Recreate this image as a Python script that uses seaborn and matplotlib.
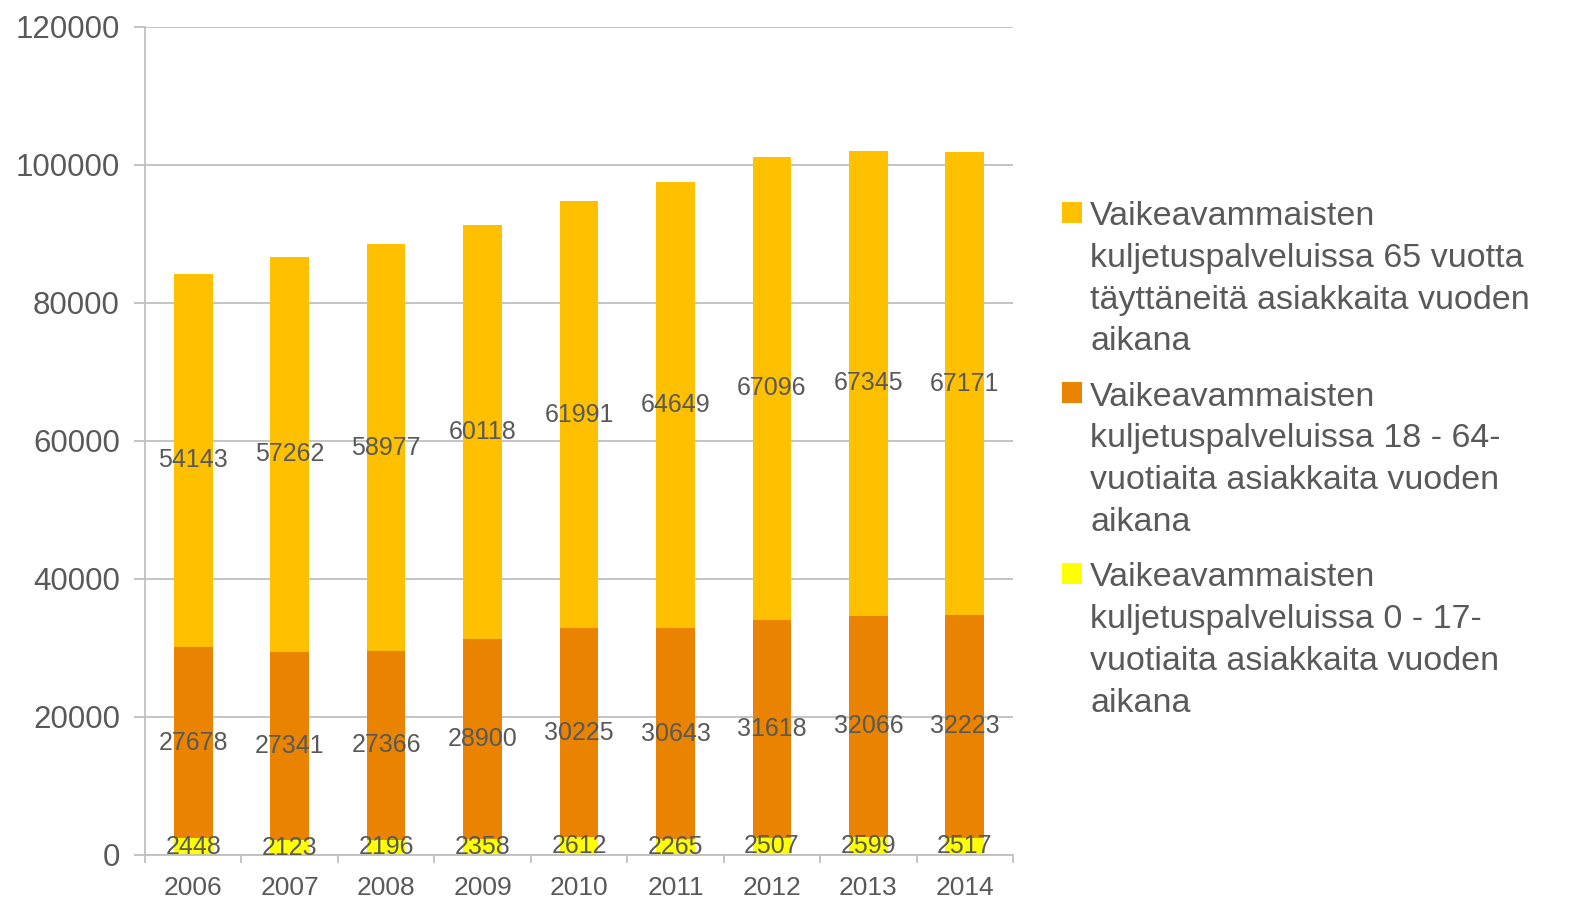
import numpy as np
import pandas as pd
import seaborn as sns
import matplotlib.pyplot as plt
from matplotlib.patches import Rectangle
from matplotlib.legend_handler import HandlerPatch

years = ["2006", "2007", "2008", "2009", "2010", "2011", "2012", "2013", "2014"]
age_0_17 = [2448, 2123, 2196, 2358, 2612, 2265, 2507, 2599, 2517]
age_18_64 = [27678, 27341, 27366, 28900, 30225, 30643, 31618, 32066, 32223]
age_65 = [54143, 57262, 58977, 60118, 61991, 64649, 67096, 67345, 67171]

label_0_17 = "Vaikeavammaisten\nkuljetuspalveluissa 0 - 17-\nvuotiaita asiakkaita vuoden\naikana"
label_18_64 = "Vaikeavammaisten\nkuljetuspalveluissa 18 - 64-\nvuotiaita asiakkaita vuoden\naikana"
label_65 = "Vaikeavammaisten\nkuljetuspalveluissa 65 vuotta\ntäyttäneitä asiakkaita vuoden\naikana"

col_0_17 = "#FFFF00"
col_18_64 = "#E98300"
col_65 = "#FFC000"
text_col = "#595959"
grid_col = "#BFBFBF"

sns.set_style("white")
plt.rcParams['font.family'] = ['Liberation Sans', 'DejaVu Sans']

fig = plt.figure(figsize=(15.74, 8.99), dpi=100)
ax = fig.add_axes([145 / 1574, 44 / 899, 868 / 1574, 828 / 899])

df = pd.DataFrame({"year": years, "a": age_0_17, "b": age_18_64, "c": age_65})
bottom_b = np.array(age_0_17)
bottom_c = bottom_b + np.array(age_18_64)

sns.barplot(data=df, x="year", y="a", color=col_0_17, width=0.4, ax=ax,
            saturation=1, linewidth=0)
sns.barplot(data=df, x="year", y="b", color=col_18_64, width=0.4, ax=ax,
            saturation=1, bottom=bottom_b, linewidth=0)
sns.barplot(data=df, x="year", y="c", color=col_65, width=0.4, ax=ax,
            saturation=1, bottom=bottom_c, linewidth=0)
if ax.get_legend() is not None:
    ax.get_legend().remove()

for cont in ax.containers:
    ax.bar_label(cont, label_type="center", fontsize=18, color=text_col,
                 fmt="%d", clip_on=False)

ax.set_xlim(-0.5, 8.5)
ax.set_ylim(0, 120000)
ax.set_yticks(range(0, 120001, 20000))
ax.set_xlabel("")
ax.set_ylabel("")
ax.set_axisbelow(True)
ax.yaxis.grid(True, color=grid_col, linewidth=1.3)
ax.xaxis.grid(False)

for s in ["top", "right"]:
    ax.spines[s].set_visible(False)
for s in ["left", "bottom"]:
    ax.spines[s].set_color(grid_col)
    ax.spines[s].set_linewidth(1.3)

ax.tick_params(axis="y", length=8, width=1.3, color=grid_col, labelsize=22.5,
               labelcolor=text_col, pad=10, left=True)
ax.set_xticks(np.arange(-0.5, 9.0, 1.0), minor=True)
ax.tick_params(axis="x", which="major", length=0, labelsize=19,
               labelcolor=text_col, pad=15)
ax.tick_params(axis="x", which="minor", length=6, width=1.3, color=grid_col,
               bottom=True)


def top_square(legend, orig_handle, xdescent, ydescent, width, height, fontsize):
    return Rectangle((-xdescent, -ydescent + 1.97 * fontsize), width, height)


handles = [ax.containers[2].patches[0], ax.containers[1].patches[0], ax.containers[0].patches[0]]
labels = [label_65, label_18_64, label_0_17]
leg = fig.legend(handles, labels, loc="upper left",
                 bbox_to_anchor=(1062 / 1574, 1 - 201 / 899), frameon=False,
                 fontsize=24.5, borderpad=0, borderaxespad=0,
                 handlelength=0.58, handleheight=0.58,
                 handletextpad=0.25, labelspacing=0.71,
                 handler_map={Rectangle: HandlerPatch(patch_func=top_square)})
for t in leg.get_texts():
    t.set_color(text_col)
    t.set_linespacing(1.45)

fig.savefig("out.png", dpi=100)
